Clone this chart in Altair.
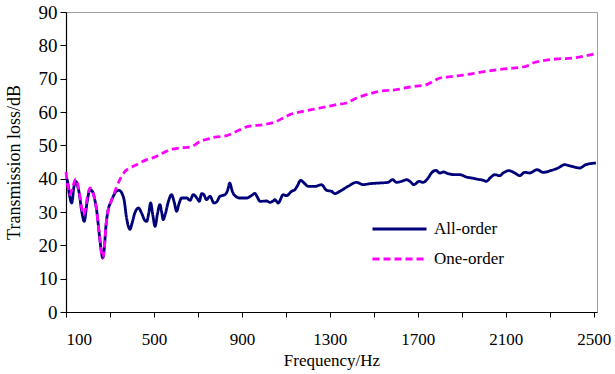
import altair as alt
import pandas as pd

# ---- data ----
all_order_freq = [100, 106, 116, 126, 136, 145, 152, 160, 172, 183, 196, 209, 220, 230, 239, 252, 261, 267,
                  274, 282, 292, 304, 315, 330, 342, 355, 364, 376, 391, 400, 412, 429, 445, 458, 467, 476,
                  485, 495, 505, 516, 527, 535, 542, 552, 565, 580, 592, 603, 614, 626, 649, 664, 679, 697,
                  706, 717, 727, 739, 755, 773, 785, 800, 823, 835, 845, 855, 864, 891, 921, 945, 959, 970,
                  982, 1012, 1027, 1042, 1050, 1065, 1088, 1103, 1126, 1141, 1152, 1167, 1186, 1201, 1232,
                  1262, 1285, 1308, 1323, 1345, 1383, 1421, 1451, 1482, 1527, 1565, 1585, 1603, 1626, 1649,
                  1664, 1682, 1706, 1724, 1747, 1762, 1782, 1800, 1818, 1838, 1868, 1891, 1921, 1944, 1967,
                  1997, 2012, 2030, 2050, 2073, 2088, 2115, 2141, 2164, 2186, 2209, 2242, 2270, 2308, 2338,
                  2368, 2399, 2436, 2464, 2510]
all_order_tl = [40.2, 39.5, 35.0, 32.7, 37.5, 39.2, 38.0, 35.7, 30.0, 27.2, 33.0, 36.7, 36.2, 34.0, 30.7, 23.0,
                18.0, 16.2, 19.0, 26.0, 30.7, 33.0, 34.7, 36.3, 36.5, 35.5, 33.7, 28.0, 24.8, 26.5, 29.5, 31.2,
                29.5, 27.5, 27.2, 29.5, 32.7, 29.0, 25.7, 29.5, 32.2, 30.0, 27.7, 29.5, 33.0, 35.2, 33.0, 30.2,
                32.5, 34.2, 34.2, 33.5, 35.2, 34.0, 33.2, 35.5, 35.2, 33.7, 34.7, 32.7, 33.0, 34.7, 35.2, 36.5,
                38.7, 36.5, 35.2, 34.2, 34.2, 35.0, 35.6, 34.5, 33.2, 33.3, 32.9, 33.3, 33.7, 32.7, 35.2, 34.9,
                36.2, 36.7, 37.8, 39.5, 38.5, 37.7, 37.7, 38.2, 36.5, 36.2, 35.5, 36.2, 37.7, 38.9, 38.2, 38.5,
                38.7, 38.9, 39.7, 38.9, 39.2, 39.7, 39.2, 38.2, 39.2, 38.9, 40.2, 41.7, 42.5, 41.7, 42.0, 41.5,
                41.2, 41.2, 40.5, 40.2, 39.9, 39.5, 39.2, 40.3, 41.2, 40.9, 41.7, 42.4, 41.7, 40.9, 41.9, 41.7,
                42.7, 41.9, 42.5, 43.2, 44.2, 43.7, 43.2, 44.2, 44.7]

one_order_freq = [100, 109, 118, 130, 145, 160, 172, 182, 196, 209, 220, 230, 239, 252, 261, 267, 274, 282,
                  292, 304, 315, 330, 342, 353, 370, 391, 406, 430, 467, 497, 527, 550, 573, 618, 664, 690,
                  709, 740, 770, 800, 830, 876, 929, 997, 1058, 1090, 1118, 1179, 1255, 1330, 1383, 1406,
                  1467, 1527, 1603, 1664, 1739, 1770, 1800, 1861, 1921, 1982, 2042, 2103, 2179, 2210, 2224,
                  2255, 2330, 2406, 2467, 2512]
one_order_tl = [42.0, 37.5, 35.2, 37.5, 39.9, 36.0, 31.0, 29.2, 34.0, 37.2, 36.2, 34.0, 30.7, 23.0, 18.0, 16.2,
                19.0, 26.0, 30.7, 33.0, 34.9, 37.5, 39.3, 40.7, 42.3, 43.2, 43.7, 44.5, 45.7, 46.3, 47.2, 48.0,
                48.7, 49.2, 49.5, 50.3, 51.2, 51.8, 52.4, 52.6, 52.9, 54.2, 55.7, 56.2, 57.2, 58.3, 59.2, 60.2,
                61.2, 62.2, 62.9, 63.7, 65.2, 66.2, 66.7, 67.5, 68.2, 69.2, 70.2, 70.7, 71.2, 71.9, 72.5, 73.0,
                73.5, 74.2, 74.7, 75.2, 75.9, 76.2, 76.9, 77.5]

series_names = ["All-order", "One-order"]
series_colors = ["#000078", "#ff00ff"]
x_ticks = [100, 300, 500, 700, 900, 1100, 1300, 1500, 1700, 1900, 2100, 2300, 2500]
y_ticks = [0, 10, 20, 30, 40, 50, 60, 70, 80, 90]

df = pd.concat([
    pd.DataFrame({"f": all_order_freq, "tl": all_order_tl, "s": series_names[0], "o": range(len(all_order_freq))}),
    pd.DataFrame({"f": one_order_freq, "tl": one_order_tl, "s": series_names[1], "o": range(len(one_order_freq))}),
])

FONT = "Liberation Serif"

leg = dict(title=None, orient="none", legendX=305, legendY=207, padding=0,
           symbolType="stroke", symbolSize=2916, symbolStrokeWidth=2.8,
           labelFont=FONT, labelFontSize=17, labelColor="black",
           clipHeight=20, rowPadding=10, labelOffset=6)

chart = alt.Chart(df).mark_line(interpolate="monotone", strokeWidth=2.8).encode(
    x=alt.X("f:Q", scale=alt.Scale(domain=[100, 2515], nice=False, zero=False),
            axis=alt.Axis(title="Frequency/Hz", values=x_ticks,
                          labelExpr="(datum.value - 100) % 400 == 0 ? datum.label : ''",
                          format="d", grid=False, tickSize=5, labelPadding=14,
                          labelFontSize=17, titleFontSize=17, titlePadding=5)),
    y=alt.Y("tl:Q", scale=alt.Scale(domain=[0, 90], nice=False),
            axis=alt.Axis(title="Transmission loss/dB", values=y_ticks, grid=False,
                          tickSize=6, labelPadding=3, labelFontSize=19,
                          titleFontSize=18, titleX=-43, titleY=150)),
    color=alt.Color("s:N", scale=alt.Scale(domain=series_names, range=series_colors),
                    legend=alt.Legend(**leg)),
    strokeDash=alt.StrokeDash("s:N", scale=alt.Scale(domain=series_names, range=[[1, 0], [7, 4]]),
                              legend=alt.Legend(**leg)),
    order="o:Q",
).properties(
    width=531, height=300,
    padding={"left": 66, "top": 12, "right": 18, "bottom": 62},
    autosize=alt.AutoSizeParams(type="none"),
).configure_view(
    stroke="#a0a0a0", strokeWidth=1
).configure_axis(
    labelFont=FONT, titleFont=FONT,
    labelColor="black", titleColor="black", domainColor="black", tickColor="black",
    titleFontWeight="normal", domainWidth=1.2,
)

chart.save("out.html", embed_options={"renderer": "svg", "actions": False})
